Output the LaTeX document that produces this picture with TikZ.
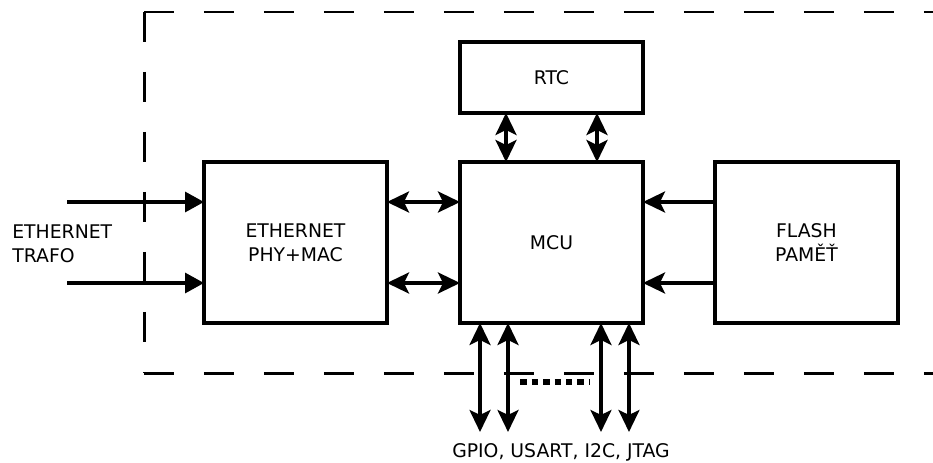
\documentclass[tikz,border=0pt]{standalone}
\usepackage{fontspec}
\setmainfont{DejaVu Sans}
\usetikzlibrary{arrows.meta}

\begin{document}
\begin{tikzpicture}[
    x=0.02cm, y=-0.02cm,
    every node/.style={font=\fontsize{10.7}{13.7}\selectfont},
    blok/.style={draw, line width=0.065cm, minimum width=3.66cm, minimum height=3.22cm,
      align=center, inner sep=0pt, outer sep=0pt},
    sbernice/.style={line width=0.065cm,
      {Stealth[length=0.44cm, width=0.42cm, inset=0.1cm]}-{Stealth[length=0.44cm, width=0.42cm, inset=0.1cm]}},
    cteni/.style={line width=0.065cm, -{Stealth[length=0.44cm, width=0.42cm, inset=0.1cm]}},
    vstup/.style={line width=0.065cm, -{Triangle[length=0.38cm, width=0.4cm]}},
    ramec/.style={line width=0.06cm, dash pattern=on 0.6cm off 0.6cm},
  ]
    %% souřadnice v pixelech předlohy, y roste dolů
    \def\posun{0.81cm}  % svislý posun sběrnic od středu bloku
    \clip (0,0) rectangle (933,463);

    %% --- rámeček desky (vpravo oříznutý) ---
    \draw[ramec] (144,12) -- (960,12);
    \draw[ramec] (144,12) -- (144,373);
    \draw[ramec] (144,373) -- (960,373);

    %% --- bloky ---
    \node[blok] (eth) at (295.5,242.5) {ETHERNET\\PHY+MAC};
    \node[blok] (mcu) at (551.5,242.5) {MCU};
    \node[blok] (flash) at (806.5,242.5) {FLASH\\PAMĚŤ};
    \node[blok, minimum height=1.42cm] (rtc) at (551.5,77.5) {RTC};

    %% --- ethernet trafo ---
    \node[anchor=west, align=left, inner sep=0pt] (trafo) at (12,244) {ETHERNET\\TRAFO};
    \coordinate (in1) at (67,202);
    \coordinate (in2) at (67,283);
    \draw[vstup] (in1) -- (in1 -| eth.west);
    \draw[vstup] (in2) -- (in2 -| eth.west);

    %% --- PHY <-> MCU ---
    \draw[sbernice] ([yshift=\posun]eth.east) -- ([yshift=\posun]mcu.west);
    \draw[sbernice] ([yshift=-\posun]eth.east) -- ([yshift=-\posun]mcu.west);

    %% --- FLASH -> MCU ---
    \draw[cteni] ([yshift=\posun]flash.west) -- ([yshift=\posun]mcu.east);
    \draw[cteni] ([yshift=-\posun]flash.west) -- ([yshift=-\posun]mcu.east);

    %% --- RTC <-> MCU ---
    \draw[sbernice] ([xshift=-0.91cm]rtc.south) -- ([xshift=-0.91cm]mcu.north);
    \draw[sbernice] ([xshift=0.91cm]rtc.south) -- ([xshift=0.91cm]mcu.north);

    %% --- periferie ---
    \foreach \dx/\jm in {-1.43/a, -0.87/b, 0.99/c, 1.55/d} {
      \path ([xshift=\dx cm]mcu.south) ++(0,-2.18cm) coordinate (io\jm);
      \draw[sbernice] ([xshift=\dx cm]mcu.south) -- (io\jm);
    }
    \draw[line width=0.12cm, dash pattern=on 0.13cm off 0.1cm] (520,382) -- (590,382);
    \node (io) at (561,452) {GPIO, USART, I2C, JTAG};

\end{tikzpicture}
\end{document}
